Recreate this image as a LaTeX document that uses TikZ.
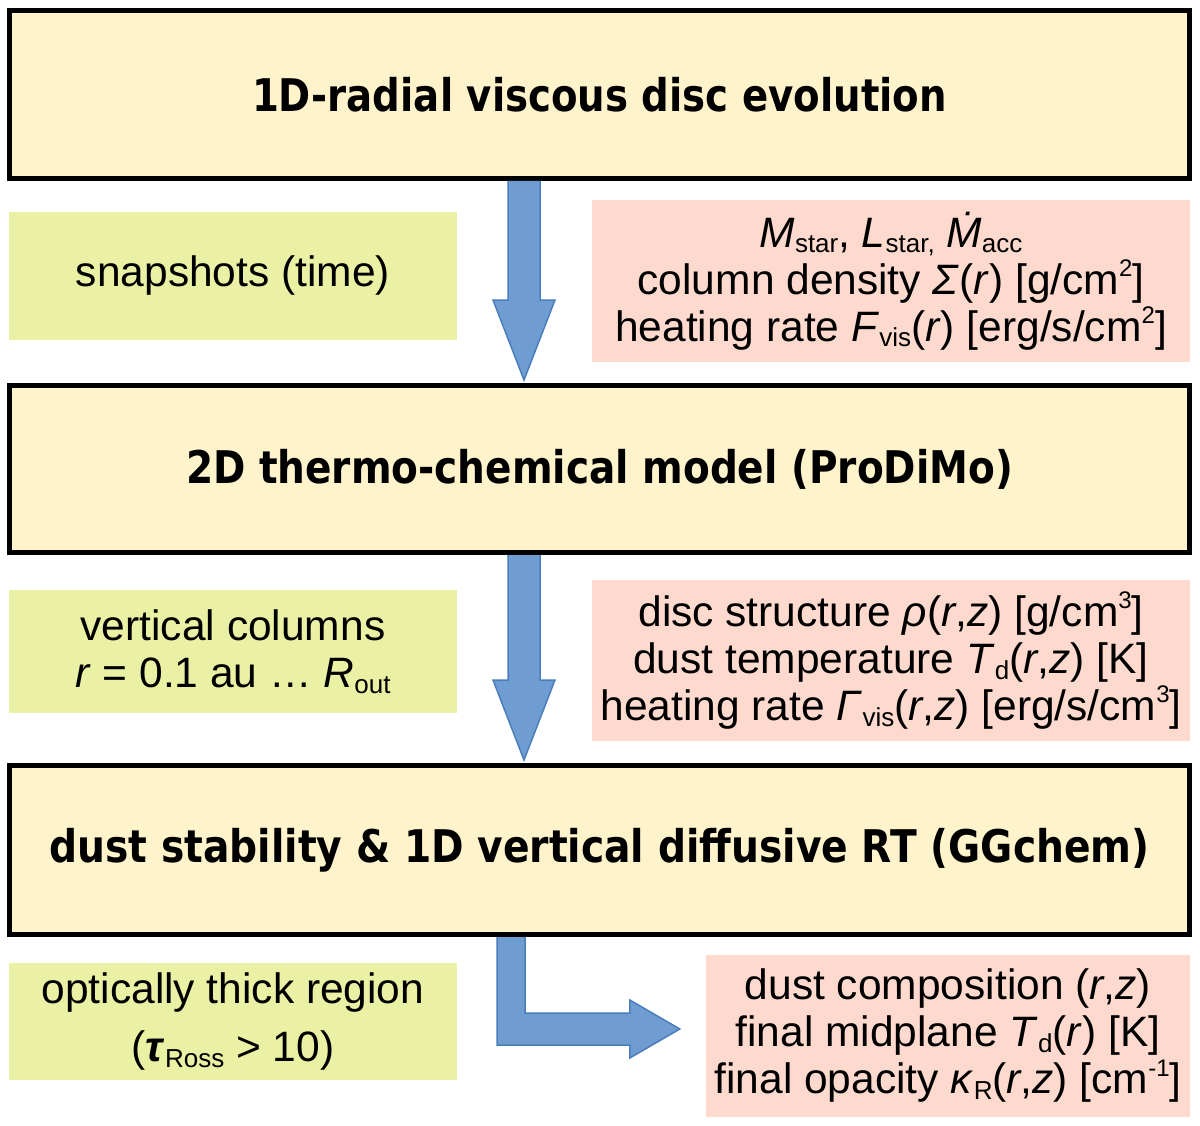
\documentclass[tikz,border=0pt]{standalone}
\usepackage{fontspec}
\usepackage{graphicx}
\usetikzlibrary{calc}
\setmainfont{Liberation Sans}
\newfontfamily\titlefont{DejaVu Sans}
\definecolor{mainfill}{HTML}{FFF3CC}
\definecolor{greenfill}{HTML}{EBF1A4}
\definecolor{pinkfill}{HTML}{FDD9CE}
\definecolor{arrfill}{HTML}{6F9DD2}
\definecolor{arrline}{HTML}{4A7EBB}
\newcommand{\lo}[1]{\raisebox{-0.25ex}{\fontsize{26}{26}\selectfont #1}}
\newcommand{\hi}[1]{\raisebox{0.8ex}{\fontsize{24}{24}\selectfont #1}}
\tikzset{
  mainbox/.style={draw=black, line width=5pt, fill=mainfill, minimum width=1180pt, inner sep=0pt},
  greenbox/.style={fill=greenfill, minimum width=448pt, inner sep=0pt, align=center, font=\fontsize{42.5}{47}\selectfont},
  pinkbox/.style={fill=pinkfill, inner sep=0pt, align=center, font=\fontsize{42.5}{47}\selectfont},
  blockarrow/.style={fill=arrfill, draw=arrline, line width=1.5pt, line join=miter}
}
\begin{document}
\begin{tikzpicture}[x=1pt,y=-1pt]
\useasboundingbox (0,0) rectangle (1200,1126);
% main boxes
\node[mainbox, minimum height=168pt] (b1) at (599.5,94.5) {\resizebox{695pt}{\height}{\titlefont\bfseries\fontsize{45}{54}\selectfont 1D-radial viscous disc evolution}};
\node[mainbox, minimum height=167pt] (b2) at (599.5,469) {\resizebox{827pt}{\height}{\titlefont\bfseries\fontsize{45}{54}\selectfont 2D thermo-chemical model (ProDiMo)}};
\node[mainbox, minimum height=169pt] (b3) at (599.5,850) {\resizebox{1100pt}{\height}{\titlefont\bfseries\fontsize{45}{54}\selectfont dust stability \& 1D vertical diffusive RT (GGchem)}};
% green boxes
\node[greenbox, minimum height=128pt] (g1) at (233,276) {snapshots (time)};
\node[greenbox, minimum height=123pt] (g2) at (233,651.5) {vertical columns\\\textit{r} = 0.1 au … \textit{R}\lo{out}};
\node[greenbox, minimum height=117pt] (g3) at (233,1021.5) {optically thick region\\[11pt](\textbf{\textit{τ}}\lo{Ross} > 10)};
% pink boxes
\node[pinkbox, minimum width=598pt, minimum height=162pt] (p1) at (891,281) {\textit{M}\lo{star}, \textit{L}\lo{star,} \textit{\.M}\lo{acc}\\column density \textit{Σ}(\textit{r}) [g/cm\hi{2}]\\heating rate \textit{F}\lo{vis}(\textit{r}) [erg/s/cm\hi{2}]};
\node[pinkbox, minimum width=598pt, minimum height=161pt] (p2) at (891,660.5) {disc structure \textit{ρ}(\textit{r},\textit{z}) [g/cm\hi{3}]\\dust temperature \textit{T}\lo{d}(\textit{r},\textit{z}) [K]\\heating rate \textit{Γ}\lo{vis}(\textit{r},\textit{z}) [erg/s/cm\hi{3}]};
\node[pinkbox, minimum width=484pt, minimum height=162pt] (p3) at (948,1036) {dust composition (\textit{r},\textit{z})\\final midplane \textit{T}\lo{d}(\textit{r}) [K]\\final opacity \textit{κ}\lo{R}(\textit{r},\textit{z}) [cm\hi{-1}]};
% block arrows
\coordinate (a1s) at ($(b1.south)+(-75.5,0)$);
\coordinate (a1e) at ($(b2.north)+(-75.5,-3)$);
\draw[blockarrow] ($(a1s)+(-16,0)$) -- ($(a1e)+(-16,-80)$) -- ($(a1e)+(-31,-80)$) -- (a1e) -- ($(a1e)+(31,-80)$) -- ($(a1e)+(16,-80)$) -- ($(a1s)+(16,0)$);
\coordinate (a2s) at ($(b2.south)+(-75.5,0)$);
\coordinate (a2e) at ($(b3.north)+(-75.5,-3)$);
\draw[blockarrow] ($(a2s)+(-16,0)$) -- ($(a2e)+(-16,-80)$) -- ($(a2e)+(-31,-80)$) -- (a2e) -- ($(a2e)+(31,-80)$) -- ($(a2e)+(16,-80)$) -- ($(a2s)+(16,0)$);
\coordinate (a3s) at ($(b3.south)+(-88.5,0)$);
\coordinate (a3e) at ($(p3.west)+(-26,-7)$);
\draw[blockarrow] ($(a3s)+(-14,0)$) -- ($(a3s|-a3e)+(-14,16)$) -- ($(a3e)+(-50,16)$) -- ($(a3e)+(-50,29)$) -- (a3e) -- ($(a3e)+(-50,-29)$) -- ($(a3e)+(-50,-16)$) -- ($(a3s|-a3e)+(14,-16)$) -- ($(a3s)+(14,0)$);
\end{tikzpicture}
\end{document}
